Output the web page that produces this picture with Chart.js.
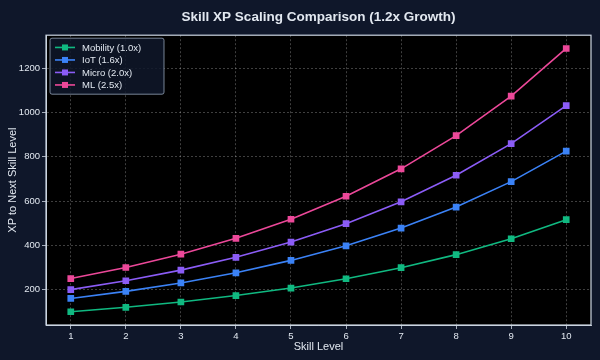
<!DOCTYPE html>
<html>
<head>
<meta charset="utf-8">
<script src="https://cdn.jsdelivr.net/npm/chart.js@4"></script>
<style>
  html, body { margin: 0; padding: 0; background: #0f172a; }
  #wrap { width: 600px; height: 360px; }
</style>
</head>
<body>
<div id="wrap"><canvas id="xpChart" width="600" height="360"></canvas></div>
<script>
const levels = [1, 2, 3, 4, 5, 6, 7, 8, 9, 10];
const mobilityXp = [100, 120, 144, 173, 207, 249, 299, 358, 430, 516];
const iotXp = [160, 192, 230, 276, 332, 398, 478, 573, 688, 826];
const microXp = [200, 240, 288, 346, 415, 498, 597, 717, 860, 1032];
const mlXp = [250, 300, 360, 432, 518, 622, 746, 896, 1075, 1290];
const seriesNames = ["Mobility (1.0x)", "IoT (1.6x)", "Micro (2.0x)", "ML (2.5x)"];
const seriesColors = ["#10b981", "#3b82f6", "#8b5cf6", "#ec4899"];
const yTicks = [200, 400, 600, 800, 1000, 1200];

const textColor = "#e2e8f0";
const gridColor = "rgba(200,200,200,0.4)";
const fontFam = "'Liberation Sans', Arial, sans-serif";

function makeSet(i, values) {
    return {
        label: seriesNames[i],
        data: levels.map((lv, k) => ({ x: lv, y: values[k] })),
        borderColor: seriesColors[i],
        backgroundColor: seriesColors[i],
        borderWidth: 1.6,
        pointStyle: 'rect',
        pointRadius: 3.6,
        pointHoverRadius: 4,
        tension: 0
    };
}

// black plot area + light frame + legend box
const framePlugin = {
    id: 'frame',
    beforeDraw(chart) {
        const a = chart.chartArea, c = chart.ctx;
        c.save();
        c.fillStyle = "#000000";
        c.fillRect(a.left, a.top, a.right - a.left, a.bottom - a.top);
        c.restore();
    },
    afterDraw(chart) {
        const a = chart.chartArea, c = chart.ctx;
        c.save();
        c.strokeStyle = "#cbd5e1";
        c.lineWidth = 1.2;
        c.strokeRect(a.left, a.top, a.right - a.left, a.bottom - a.top);

        const x0 = a.left + 4, y0 = a.top + 3;
        const rowH = 12.5, w = 114, h = rowH * seriesNames.length + 6;
        c.fillStyle = "rgba(15,23,42,0.85)";
        c.strokeStyle = "#94a3b8";
        c.lineWidth = 0.8;
        c.beginPath();
        c.roundRect(x0, y0, w, h, 2);
        c.fill();
        c.stroke();
        c.font = "9.5px " + fontFam;
        c.textBaseline = "middle";
        seriesNames.forEach((name, i) => {
            const yy = y0 + 3 + rowH * i + rowH / 2;
            c.strokeStyle = seriesColors[i];
            c.lineWidth = 1.6;
            c.beginPath();
            c.moveTo(x0 + 5, yy);
            c.lineTo(x0 + 25, yy);
            c.stroke();
            c.fillStyle = seriesColors[i];
            c.fillRect(x0 + 15 - 3, yy - 3, 6, 6);
            c.fillStyle = textColor;
            c.fillText(name, x0 + 32, yy + 0.5);
        });
        c.restore();
    }
};

new Chart(document.getElementById('xpChart'), {
    type: 'line',
    data: {
        datasets: [
            makeSet(0, mobilityXp),
            makeSet(1, iotXp),
            makeSet(2, microXp),
            makeSet(3, mlXp)
        ]
    },
    options: {
        responsive: false,
        animation: false,
        layout: { padding: { left: 6, right: 9, top: 0, bottom: 6 } },
        plugins: {
            legend: { display: false },
            tooltip: { enabled: false },
            title: {
                display: true,
                fullSize: false,
                text: "Skill XP Scaling Comparison (1.2x Growth)",
                color: textColor,
                font: { family: fontFam, size: 13.5, weight: 'bold' },
                padding: { top: 9, bottom: 10 }
            }
        },
        scales: {
            x: {
                type: 'linear',
                min: 0.55,
                max: 10.45,
                afterBuildTicks(scale) {
                    scale.ticks = levels.map(v => ({ value: v }));
                },
                afterFit(scale) { scale.height = 29; },
                ticks: {
                    color: textColor,
                    font: { family: fontFam, size: 9.5 },
                    padding: 2,
                    maxRotation: 0,
                    callback: v => String(v)
                },
                grid: {
                    color: gridColor,
                    lineWidth: 0.8,
                    tickLength: 4,
                    tickColor: "#cbd5e1"
                },
                border: { display: true, color: "#cbd5e1", dash: [2, 2] },
                title: {
                    display: true,
                    text: "Skill Level",
                    color: textColor,
                    font: { family: fontFam, size: 11 },
                    padding: { top: 0, bottom: 0 }
                }
            },
            y: {
                min: 40,
                max: 1350,
                afterBuildTicks(scale) {
                    scale.ticks = yTicks.map(v => ({ value: v }));
                },
                afterFit(scale) { scale.width = 40; },
                ticks: {
                    color: textColor,
                    font: { family: fontFam, size: 9.5 },
                    padding: 2,
                    callback: v => String(v)
                },
                grid: {
                    color: gridColor,
                    lineWidth: 0.8,
                    tickLength: 4,
                    tickColor: "#cbd5e1"
                },
                border: { display: true, color: "#cbd5e1", dash: [2, 2] },
                title: {
                    display: true,
                    text: "XP to Next Skill Level",
                    color: textColor,
                    font: { family: fontFam, size: 11 },
                    padding: { top: 0, bottom: 0 }
                }
            }
        }
    },
    plugins: [framePlugin]
});
</script>
</body>
</html>
